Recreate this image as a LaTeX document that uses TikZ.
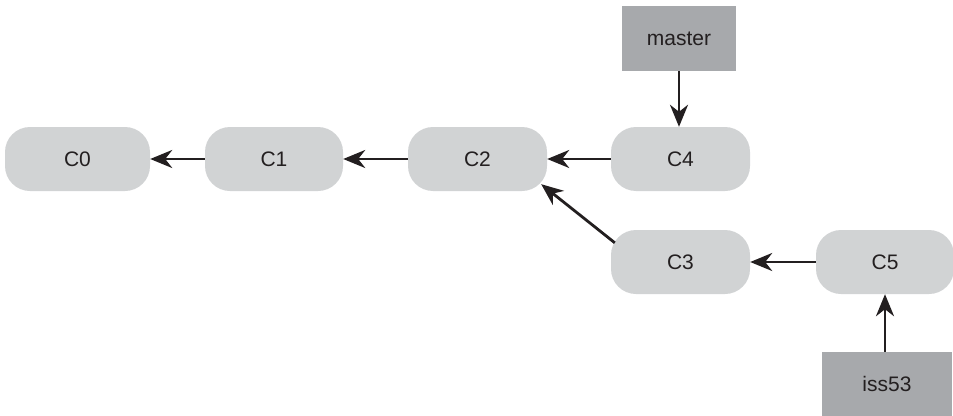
\documentclass[tikz,border=0pt]{standalone}
\usepackage{fontspec}
\setmainfont{Liberation Sans}
\usetikzlibrary{arrows.meta,calc}
\definecolor{commitgray}{HTML}{D1D3D4}
\definecolor{branchgray}{HTML}{A7A9AC}
\definecolor{textdark}{HTML}{231F20}
\tikzset{
  commit/.style={rectangle, rounded corners=25pt, fill=commitgray, draw=none,
    minimum height=64pt, inner sep=0pt, text=textdark, font=\fontsize{21}{24}\selectfont},
  branchbox/.style={rectangle, fill=branchgray, draw=none,
    minimum height=64pt, inner sep=0pt, text=textdark, font=\fontsize{21}{24}\selectfont},
  arr/.style={-{Stealth[length=22pt,width=18pt,inset=7pt]}, line width=2.8pt, textdark}
}
\begin{document}
\begin{tikzpicture}[x=1pt,y=-1pt]
\useasboundingbox (0,0) rectangle (953,415);
\node[commit, minimum width=145pt] (C0) at (77.5,159) {C0};
\node[commit, minimum width=138pt] (C1) at (274,159) {C1};
\node[commit, minimum width=139pt] (C2) at (477.5,159) {C2};
\node[commit, minimum width=139pt] (C4) at (680.5,159) {C4};
\node[commit, minimum width=139pt] (C3) at (680.5,262) {C3};
\node[commit, minimum width=138pt] (C5) at (885,262) {C5};
\node[branchbox, minimum width=114pt, minimum height=65pt] (master) at (679,38.5) {master};
\node[branchbox, minimum width=130pt] (iss53) at (887,384) {iss53};
\coordinate (d1) at ($(C3.north west)+(4,13)$);
\coordinate (d2) at ($(C2.south east)+(-6,-7)$);
\draw[arr] (C1.west) -- (C0.east);
\draw[arr] (C2.west) -- (C1.east);
\draw[arr] (C4.west) -- (C2.east);
\draw[arr] (C5.west) -- (C3.east);
\draw[arr] (master.south) -- (master.south |- C4.north);
\draw[arr] (C5.south |- iss53.north) -- (C5.south);
\draw[arr] (d1) -- (d2);
\end{tikzpicture}
\end{document}
